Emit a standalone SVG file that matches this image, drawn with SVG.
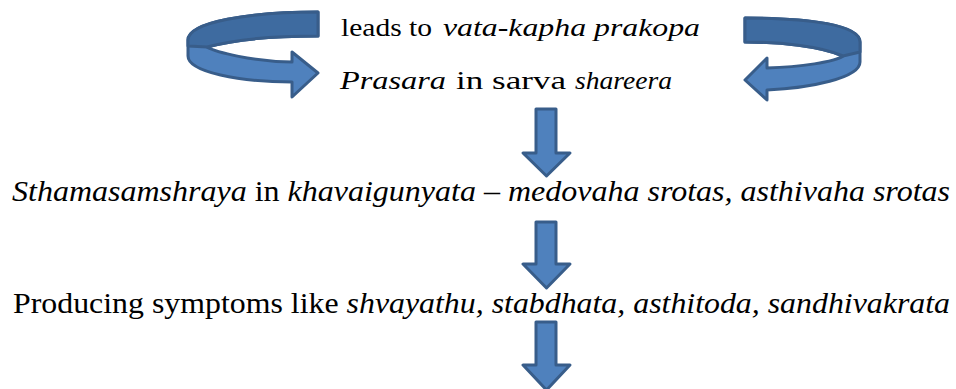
<svg xmlns="http://www.w3.org/2000/svg" width="956" height="389" viewBox="0 0 956 389">
<style>
  .t { font-family: "Liberation Serif", "Times New Roman", serif; fill: #000; }
  .i { font-style: italic; }
  .arrow { fill: #4F81BD; stroke: #385D8A; stroke-width: 3; stroke-linejoin: round; }
  .shade { fill: #3E6BA0; stroke: #385D8A; stroke-width: 3; stroke-linejoin: round; }
</style>
<rect width="956" height="389" fill="#fff"/>
<g id="connectors">
  <g id="cycle-left">
    <path class="arrow" d="M318,12 C250,12 188,22 188,40 L188,56 C188,72 240,82 292,82 L292,97 L318,73 L292,52 L292,62 C255,62 215,52 207,47 C240,38 280,36 318,36 Z"/>
    <path class="shade" d="M318,12 C250,12 188,22 188,40 L188,46 L207,47 C240,38 280,36 318,36 Z"/>
  </g>
  <g id="cycle-right">
    <path class="arrow" d="M745,18 C810,18 860,25 860,42 L860,62 C860,78 810,88 767,90 L767,100 L745,80 L767,58 L767,68 C800,67 835,62 843,56 C820,46 780,42 745,42 Z"/>
    <path class="shade" d="M745,18 C810,18 860,25 860,42 L860,52 L843,56 C820,46 780,42 745,42 Z"/>
  </g>
  <path id="down1" class="arrow" d="M536,109 L556,109 L556,153 L570,153 L546.5,176 L523,153 L536,153 Z"/>
  <path id="down2" class="arrow" d="M536,222 L556,222 L556,264 L570,264 L546.5,288 L523,264 L536,264 Z"/>
  <path id="down3" class="arrow" d="M536,322 L556,322 L556,365 L570,365 L546.5,390 L523,365 L536,365 Z"/>
</g>
<g id="n1"><text class="t" y="36" font-size="26"><tspan x="341" textLength="91" lengthAdjust="spacingAndGlyphs">leads to</tspan> <tspan class="i" x="443" textLength="257" lengthAdjust="spacingAndGlyphs">vata-kapha prakopa</tspan></text></g>
<g id="n2"><text class="t" y="89" font-size="26"><tspan class="i" x="340" textLength="106" lengthAdjust="spacingAndGlyphs">Prasara</tspan> <tspan x="456" textLength="110" lengthAdjust="spacingAndGlyphs">in sarva</tspan> <tspan class="i" x="575" textLength="97" lengthAdjust="spacingAndGlyphs">shareera</tspan></text></g>
<g id="n3"><text class="t" x="12" y="201" font-size="29" textLength="938" lengthAdjust="spacingAndGlyphs"><tspan class="i">Sthamasamshraya</tspan> in <tspan class="i">khavaigunyata – medovaha srotas, asthivaha srotas</tspan></text></g>
<g id="n4"><text class="t" x="13" y="313" font-size="30" textLength="937" lengthAdjust="spacingAndGlyphs">Producing symptoms like <tspan class="i">shvayathu, stabdhata, asthitoda, sandhivakrata</tspan></text></g>
</svg>
